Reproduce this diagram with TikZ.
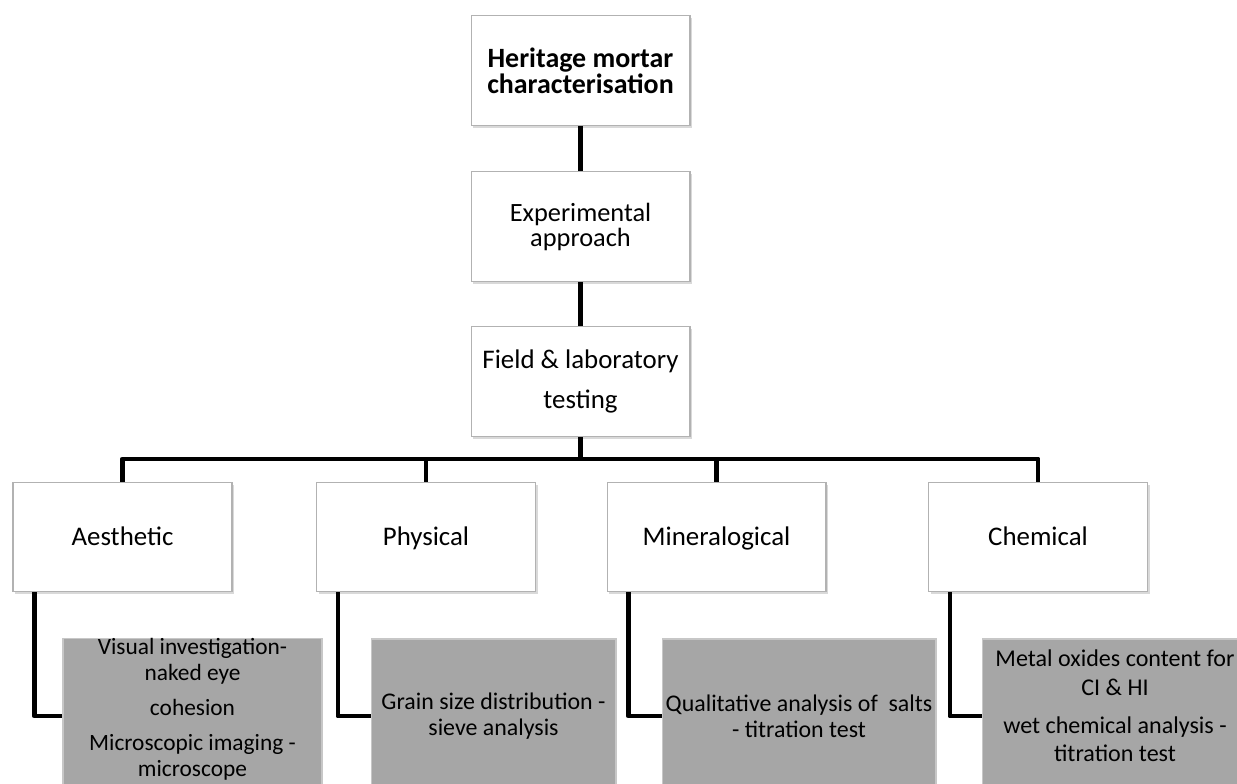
\documentclass[tikz,border=0pt]{standalone}
\usepackage{fontspec}
\setmainfont{Carlito}
\usetikzlibrary{shadows}

\begin{document}
\begin{tikzpicture}[x=0.02cm,y=-0.02cm,
  every node/.style={font=\fontsize{15.3}{18}\selectfont},
  whitebox/.style={draw=black!30,line width=0.6pt,fill=white,align=center,
    minimum width=4.38cm,minimum height=2.19cm,inner sep=0pt,
    drop shadow={shadow xshift=1.4pt,shadow yshift=-1.4pt,opacity=0.3}},
  groupbox/.style={whitebox,text height=9.8pt,text depth=0pt},
  greybox/.style={draw=black!22,line width=0.6pt,fill=black!35,align=center,
    minimum height=3.08cm,inner sep=0pt,
    font=\fontsize{13.6}{14.7}\selectfont},
  link/.style={line width=2.8pt,line join=round}]
  \useasboundingbox (0,0) rectangle (1237,784);

  % top of the tree
  \node[whitebox,font=\bfseries\fontsize{15.9}{14.7}\selectfont] (top) at (580.5,70.5) {Heritage mortar\\characterisation};
  \node[whitebox,font=\fontsize{15}{14.2}\selectfont] (exp) at (580.5,226.5) {Experimental\\approach};
  \node[whitebox,font=\fontsize{15.3}{22.7}\selectfont] (field) at (580.5,381.5) {Field \& laboratory\\testing};

  % test groups
  \node[groupbox] (aes)  at (122.5,537) {Aesthetic};
  \node[groupbox] (phy)  at (426,537)   {Physical};
  \node[groupbox] (min)  at (716.5,537) {Mineralogical};
  \node[groupbox] (chem) at (1038,537)  {Chemical};

  % methods
  \node[greybox,minimum width=5.18cm,font=\fontsize{13.3}{14.7}\selectfont] (aesd) at (192.5,716)
    {Visual investigation-\\naked eye\\[5.4pt]cohesion\\[5.4pt]Microscopic imaging -\\microscope\\[-5pt]\mbox{}};
  \node[greybox,minimum width=4.9cm] (phyd) at (493.5,716)
    {Grain size distribution -\\sieve analysis};
  \node[greybox,minimum width=5.48cm] (mind) at (799,716)
    {Qualitative analysis of~ salts\\- titration test};
  \node[greybox,minimum width=5.32cm,font=\fontsize{13.7}{16.4}\selectfont] (chemd) at (1115,716)
    {Metal oxides content for\\CI \& HI\\[5pt]wet chemical analysis -\\titration test\\[-5pt]\mbox{}};

  % connectors
  \draw[link] (top) -- (exp);
  \draw[link] (exp) -- (field);
  \coordinate (bus) at (580.5,459);
  \draw[link] (field.south) -- (bus);
  \foreach \n in {aes,phy,min,chem}
    \draw[link] (bus) -| (\n.north);
  \foreach \n in {aes,phy,min,chem}
    \draw[link] ([xshift=0.44cm]\n.south west) |- (\n d.west);
\end{tikzpicture}
\end{document}
